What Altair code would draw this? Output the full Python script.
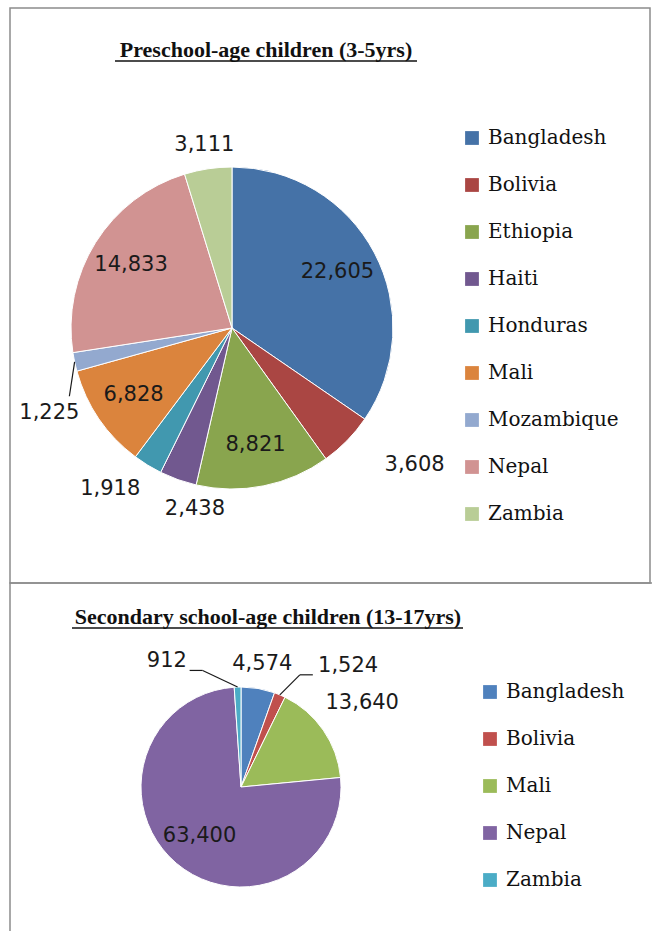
import altair as alt
import pandas as pd

# ---------------- data ----------------
pre_countries = ["Bangladesh", "Bolivia", "Ethiopia", "Haiti", "Honduras",
                 "Mali", "Mozambique", "Nepal", "Zambia"]
pre_values = [22605, 3608, 8821, 2438, 1918, 6828, 1225, 14833, 3111]
pre_colors = ["#4572A7", "#AA4643", "#89A54E", "#71588F", "#4198AF",
              "#DB843D", "#93A9CF", "#D19392", "#B9CD96"]

sec_countries = ["Bangladesh", "Bolivia", "Mali", "Nepal", "Zambia"]
sec_values = [4574, 1524, 13640, 63400, 912]
sec_colors = ["#4F81BD", "#C0504D", "#9BBB59", "#8064A2", "#4BACC6"]

pre_title = "Preschool-age children (3-5yrs)"
sec_title = "Secondary school-age children (13-17yrs)"

# ---------------- layout / style ----------------
W, H = 652, 931
LABEL_FONT = "DejaVu Sans"
LABEL_SIZE = 21
LEGEND_FONT = "DejaVu Serif"
LEGEND_SIZE = 20
TITLE_FONT = "Liberation Serif"
TITLE_SIZE = 22
BORDER = "#8c8c8c"
CHAR_W = 12.5
TEXT_H = 16
GAP = 12

PRE_PIE = dict(cx=232, cy=328, r=161, inside_min=0.1, inside_k=0.74,
               legend_x=462, legend_y=128)
SEC_PIE = dict(cx=241, cy=787, r=100, inside_min=0.2, inside_k=0.64,
               legend_x=480, legend_y=682)

# hand-placed label adjustments (px) and leader-line style, as in the source
PRE_NUDGE = {"Bolivia": (39, -4, ""), "Haiti": (27, 1, ""),
             "Honduras": (-19, -6, ""), "Mozambique": (18, 42, "v")}
SEC_NUDGE = {"Zambia": (-70, -5, "h"), "Bolivia": (56, 0, "h")}


def pie(countries, values, colors, g, nudge):
    df = pd.DataFrame({
        "country": countries,
        "value": values,
        "order": list(range(len(countries))),
        "ndx": [nudge.get(c, (0, 0, ""))[0] for c in countries],
        "ndy": [nudge.get(c, (0, 0, ""))[1] for c in countries],
        "leader": [nudge.get(c, (0, 0, ""))[2] for c in countries],
    })
    cx, cy, R = g["cx"], g["cy"], g["r"]
    base = alt.Chart(df)
    arcs = base.mark_arc(radius=R, stroke="white", strokeWidth=1).encode(
        theta=alt.Theta("value:Q", stack=True),
        order=alt.Order("order:Q", sort="ascending"),
        color=alt.Color(
            "country:N", sort=countries,
            scale=alt.Scale(domain=countries, range=colors),
            legend=alt.Legend(
                title=None, orient="none", legendX=g["legend_x"], legendY=g["legend_y"],
                symbolType="square", symbolSize=190, symbolStrokeWidth=0,
                symbolOpacity=1, labelFont=LEGEND_FONT, labelFontSize=LEGEND_SIZE,
                labelColor="#111111", labelOffset=6, rowPadding=27, padding=0,
                labelLimit=300,
            ),
        ),
        x=alt.value(cx),
        y=alt.value(cy),
    )
    pos = (
        base.transform_joinaggregate(total="sum(value)")
        .transform_window(cum="sum(value)",
                          sort=[alt.SortField("order", order="ascending")],
                          frame=[None, 0])
        .transform_calculate(mid="2*PI*(datum.cum - datum.value/2)/datum.total")
        .transform_calculate(label="format(datum.value, ',')")
        .transform_calculate(inside=f"datum.value/datum.total >= {g['inside_min']}")
        .transform_calculate(w=f"length(datum.label)*{CHAR_W}")
        .transform_calculate(
            r=f"datum.inside ? {g['inside_k'] * R} : "
              f"{R + GAP} + abs(sin(datum.mid))*datum.w/2 + abs(cos(datum.mid))*{TEXT_H / 2}")
        .transform_calculate(lx=f"{cx} + datum.r*sin(datum.mid) + datum.ndx")
        .transform_calculate(ly=f"{cy} - datum.r*cos(datum.mid) + datum.ndy")
        .transform_calculate(ex0=f"{cx} + {R}*sin(datum.mid)")
        .transform_calculate(ey0=f"{cy} - {R}*cos(datum.mid)")
    )
    texts = pos.mark_text(font=LABEL_FONT, fontSize=LABEL_SIZE, color="#1a1a1a",
                          baseline="middle", align="center").encode(
        x=alt.X("lx:Q", scale=None, axis=None),
        y=alt.Y("ly:Q", scale=None, axis=None),
        text="label:N",
    )
    lead = (
        pos.transform_filter("datum.leader != ''")
        .transform_calculate(side=f"datum.lx < {cx} ? 1 : -1")
        .transform_calculate(
            ex="datum.leader == 'h' ? datum.lx + datum.side*(datum.w/2 + 4) : datum.lx + 20")
        .transform_calculate(ey="datum.leader == 'h' ? datum.ly + 9 : datum.ly - 17")
        .transform_calculate(bx="datum.leader == 'h' ? datum.ex + datum.side*13 : datum.ex")
        .transform_calculate(by="datum.ey")
    )
    seg1 = lead.mark_rule(color="#1a1a1a", strokeWidth=1.2).encode(
        x=alt.X("ex0:Q", scale=None, axis=None), y=alt.Y("ey0:Q", scale=None, axis=None),
        x2="bx:Q", y2="by:Q")
    seg2 = lead.mark_rule(color="#1a1a1a", strokeWidth=1.2).encode(
        x=alt.X("bx:Q", scale=None, axis=None), y=alt.Y("by:Q", scale=None, axis=None),
        x2="ex:Q", y2="ey:Q")
    return [arcs, texts, seg1, seg2]


deco = alt.Chart(pd.DataFrame({"k": [0]}))

border_top = deco.mark_rect(fillOpacity=0, stroke=BORDER, strokeWidth=1.5).encode(
    x=alt.value(10), x2=alt.value(650), y=alt.value(8), y2=alt.value(583))
border_bot = deco.mark_rect(fillOpacity=0, stroke=BORDER, strokeWidth=1.5).encode(
    x=alt.value(10), x2=alt.value(700), y=alt.value(583), y2=alt.value(960))

title_top = deco.mark_text(text=pre_title, font=TITLE_FONT, fontSize=TITLE_SIZE,
                           fontWeight="bold", align="center", baseline="alphabetic",
                           color="#111111").encode(x=alt.value(266), y=alt.value(57))
ul_top = deco.mark_rule(color="#111111", strokeWidth=1.3).encode(
    x=alt.value(115), x2=alt.value(417), y=alt.value(61), y2=alt.value(61))
title_bot = deco.mark_text(text=sec_title, font=TITLE_FONT, fontSize=TITLE_SIZE,
                           fontWeight="bold", align="center", baseline="alphabetic",
                           color="#111111").encode(x=alt.value(268), y=alt.value(624))
ul_bot = deco.mark_rule(color="#111111", strokeWidth=1.3).encode(
    x=alt.value(72), x2=alt.value(463), y=alt.value(628), y2=alt.value(628))

layers = ([border_top, border_bot]
          + pie(pre_countries, pre_values, pre_colors, PRE_PIE, PRE_NUDGE)
          + pie(sec_countries, sec_values, sec_colors, SEC_PIE, SEC_NUDGE)
          + [title_top, ul_top, title_bot, ul_bot])

chart = alt.layer(*layers).resolve_scale(
    theta="independent", color="independent"
).properties(
    width=W, height=H, autosize=alt.AutoSizeParams(type="none"), padding=0
).configure_view(strokeWidth=0)

chart.save("out.html", embed_options={"renderer": "svg", "actions": False})
